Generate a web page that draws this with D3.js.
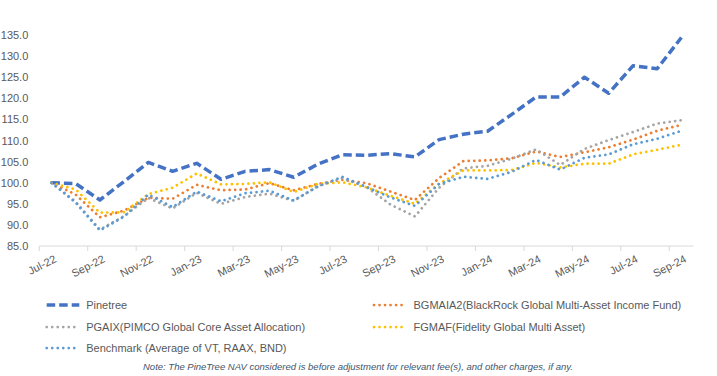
<!DOCTYPE html>
<html>
<head>
<meta charset="utf-8">
<script src="https://cdn.jsdelivr.net/npm/d3@7"></script>
<style>
  body { margin: 0; background: #fff; }
  svg { display: block; font-family: "Liberation Sans", Arial, sans-serif; }
</style>
</head>
<body>
<div id="chart"></div>
<script>
// monthly categories, Jul-22 .. Sep-24
const months = ["Jul-22","Aug-22","Sep-22","Oct-22","Nov-22","Dec-22","Jan-23","Feb-23","Mar-23","Apr-23","May-23","Jun-23",
                "Jul-23","Aug-23","Sep-23","Oct-23","Nov-23","Dec-23","Jan-24","Feb-24","Mar-24","Apr-24","May-24","Jun-24",
                "Jul-24","Aug-24","Sep-24"];

const pinetree  = [100, 99.8, 95.9, 100.3, 104.8, 102.7, 104.6, 100.8, 102.7, 103.1, 101.3, 104.4, 106.6, 106.5, 106.9, 106.1, 110.2, 111.5, 112.2, 116.2, 120.3, 120.3, 125.0, 121.2, 127.7, 127.0, 134.4];
const bgmaia2   = [100, 97.2, 91.8, 93.4, 96.4, 96.2, 99.5, 98.2, 98.4, 99.9, 98.2, 99.7, 100.7, 99.9, 97.9, 95.9, 101.1, 105.1, 105.3, 105.8, 107.4, 106.1, 107.2, 108.4, 110.2, 112.3, 113.7];
const pgaix     = [100, 95.5, 88.9, 92.1, 96.4, 93.9, 97.6, 95.0, 96.6, 97.4, 95.7, 99.2, 101.1, 99.0, 94.8, 92.0, 98.8, 103.4, 104.0, 105.7, 107.9, 104.2, 108.0, 110.1, 112.0, 114.0, 114.8];
const fgmaf     = [100, 98.4, 92.9, 93.0, 97.3, 98.8, 102.2, 99.6, 99.7, 100.1, 97.8, 99.7, 100.1, 98.9, 96.9, 95.0, 99.8, 102.9, 102.9, 103.0, 104.7, 103.6, 104.5, 104.5, 106.7, 107.8, 109.0];
const benchmark = [100, 95.3, 88.7, 92.0, 97.2, 94.2, 97.9, 95.6, 97.5, 98.1, 95.8, 99.1, 101.4, 99.0, 96.5, 94.5, 99.7, 101.4, 100.9, 102.6, 105.4, 103.1, 105.9, 106.7, 109.1, 110.4, 112.3];

const seriesNames = ["Pinetree", "BGMAIA2(BlackRock Global Multi-Asset Income Fund)", "PGAIX(PIMCO Global Core Asset Allocation)",
                     "FGMAF(Fidelity Global Multi Asset)", "Benchmark (Average of VT, RAAX, BND)"];
const yTicks = [85, 90, 95, 100, 105, 110, 115, 120, 125, 130, 135];
const note = "Note: The PineTree NAV considered is before adjustment for relevant fee(s), and other charges, if any.";

const sizes = { width: 717, height: 376, left: 39.3, right: 693.5, top: 35, bottom: 246 };

const series = [
    { name: seriesNames[0], values: pinetree,  color: "#4472C4", dashed: true },
    { name: seriesNames[1], values: bgmaia2,   color: "#ED7D31" },
    { name: seriesNames[2], values: pgaix,     color: "#A5A5A5" },
    { name: seriesNames[3], values: fgmaf,     color: "#FFC000" },
    { name: seriesNames[4], values: benchmark, color: "#5B9BD5" }
];

const svg = d3.select("#chart").append("svg")
    .attr("width", sizes.width)
    .attr("height", sizes.height);

const x = d3.scaleBand().domain(months).range([sizes.left, sizes.right]).padding(0);
const cx = m => x(m) + x.bandwidth() / 2;
const y = d3.scaleLinear().domain([85, 135]).range([sizes.bottom, sizes.top]);

// y axis labels, no line
svg.append("g")
   .attr("transform", `translate(${sizes.left},0)`)
   .call(d3.axisLeft(y).tickValues(yTicks).tickSize(0).tickPadding(11).tickFormat(d3.format(".1f")))
   .call(g => g.select(".domain").remove())
   .selectAll("text")
    .attr("font-size", "11px")
    .attr("fill", "#595959")
    .attr("font-family", "Liberation Sans, Arial, sans-serif");

// x axis line + ticks every 2 months on category boundaries
const xAxis = svg.append("g");
xAxis.append("line")
     .attr("x1", sizes.left).attr("x2", sizes.right)
     .attr("y1", sizes.bottom).attr("y2", sizes.bottom)
     .attr("stroke", "#D9D9D9").attr("stroke-width", 1);

const labelled = months.filter((m, i) => i % 2 === 0);
xAxis.selectAll("line.tick")
     .data(labelled)
     .join("line")
     .attr("class", "tick")
     .attr("x1", d => x(d)).attr("x2", d => x(d))
     .attr("y1", sizes.bottom).attr("y2", sizes.bottom + 5)
     .attr("stroke", "#D9D9D9");

xAxis.selectAll("text")
     .data(labelled)
     .join("text")
     .attr("transform", d => `translate(${cx(d) + 2}, ${sizes.bottom + 8}) rotate(-27)`)
     .attr("text-anchor", "end")
     .attr("dy", "0.75em")
     .attr("font-size", "11px")
     .attr("fill", "#595959")
     .text(d => d);

// lines
const line = d3.line()
    .x((d, i) => cx(months[i]))
    .y(d => y(d));

svg.append("g")
   .selectAll("path")
   .data(series)
   .join("path")
    .attr("d", d => line(d.values))
    .attr("fill", "none")
    .attr("stroke", d => d.color)
    .attr("stroke-width", d => d.dashed ? 3.5 : 2.75)
    .attr("stroke-linecap", d => d.dashed ? "butt" : "round")
    .attr("stroke-linejoin", "round")
    .attr("stroke-dasharray", d => d.dashed ? "8.5,4" : "0.01,5.5");

// legend, two columns
const legendPos = [
    { x: 46.7, y: 305 }, { x: 374, y: 305 },
    { x: 46.7, y: 327 }, { x: 374, y: 327 },
    { x: 46.7, y: 348 }
];

const legend = svg.append("g")
    .selectAll("g")
    .data(series)
    .join("g")
    .attr("transform", (d, i) => `translate(${legendPos[i].x}, ${legendPos[i].y})`);

legend.append("line")
    .attr("x1", 0).attr("x2", 32.6)
    .attr("stroke", d => d.color)
    .attr("stroke-width", d => d.dashed ? 3.5 : 2.75)
    .attr("stroke-linecap", d => d.dashed ? "butt" : "round")
    .attr("stroke-dasharray", d => d.dashed ? "8.5,4" : "0.01,5.5");

legend.append("text")
    .attr("x", 39.5)
    .attr("dy", "0.35em")
    .attr("font-size", "11px")
    .attr("fill", "#595959")
    .text(d => d.name);

svg.append("text")
   .attr("x", 358)
   .attr("y", 367)
   .attr("dy", "0.35em")
   .attr("text-anchor", "middle")
   .attr("font-size", "9.5px")
   .attr("font-style", "italic")
   .attr("fill", "#44546A")
   .text(note);
</script>
</body>
</html>
